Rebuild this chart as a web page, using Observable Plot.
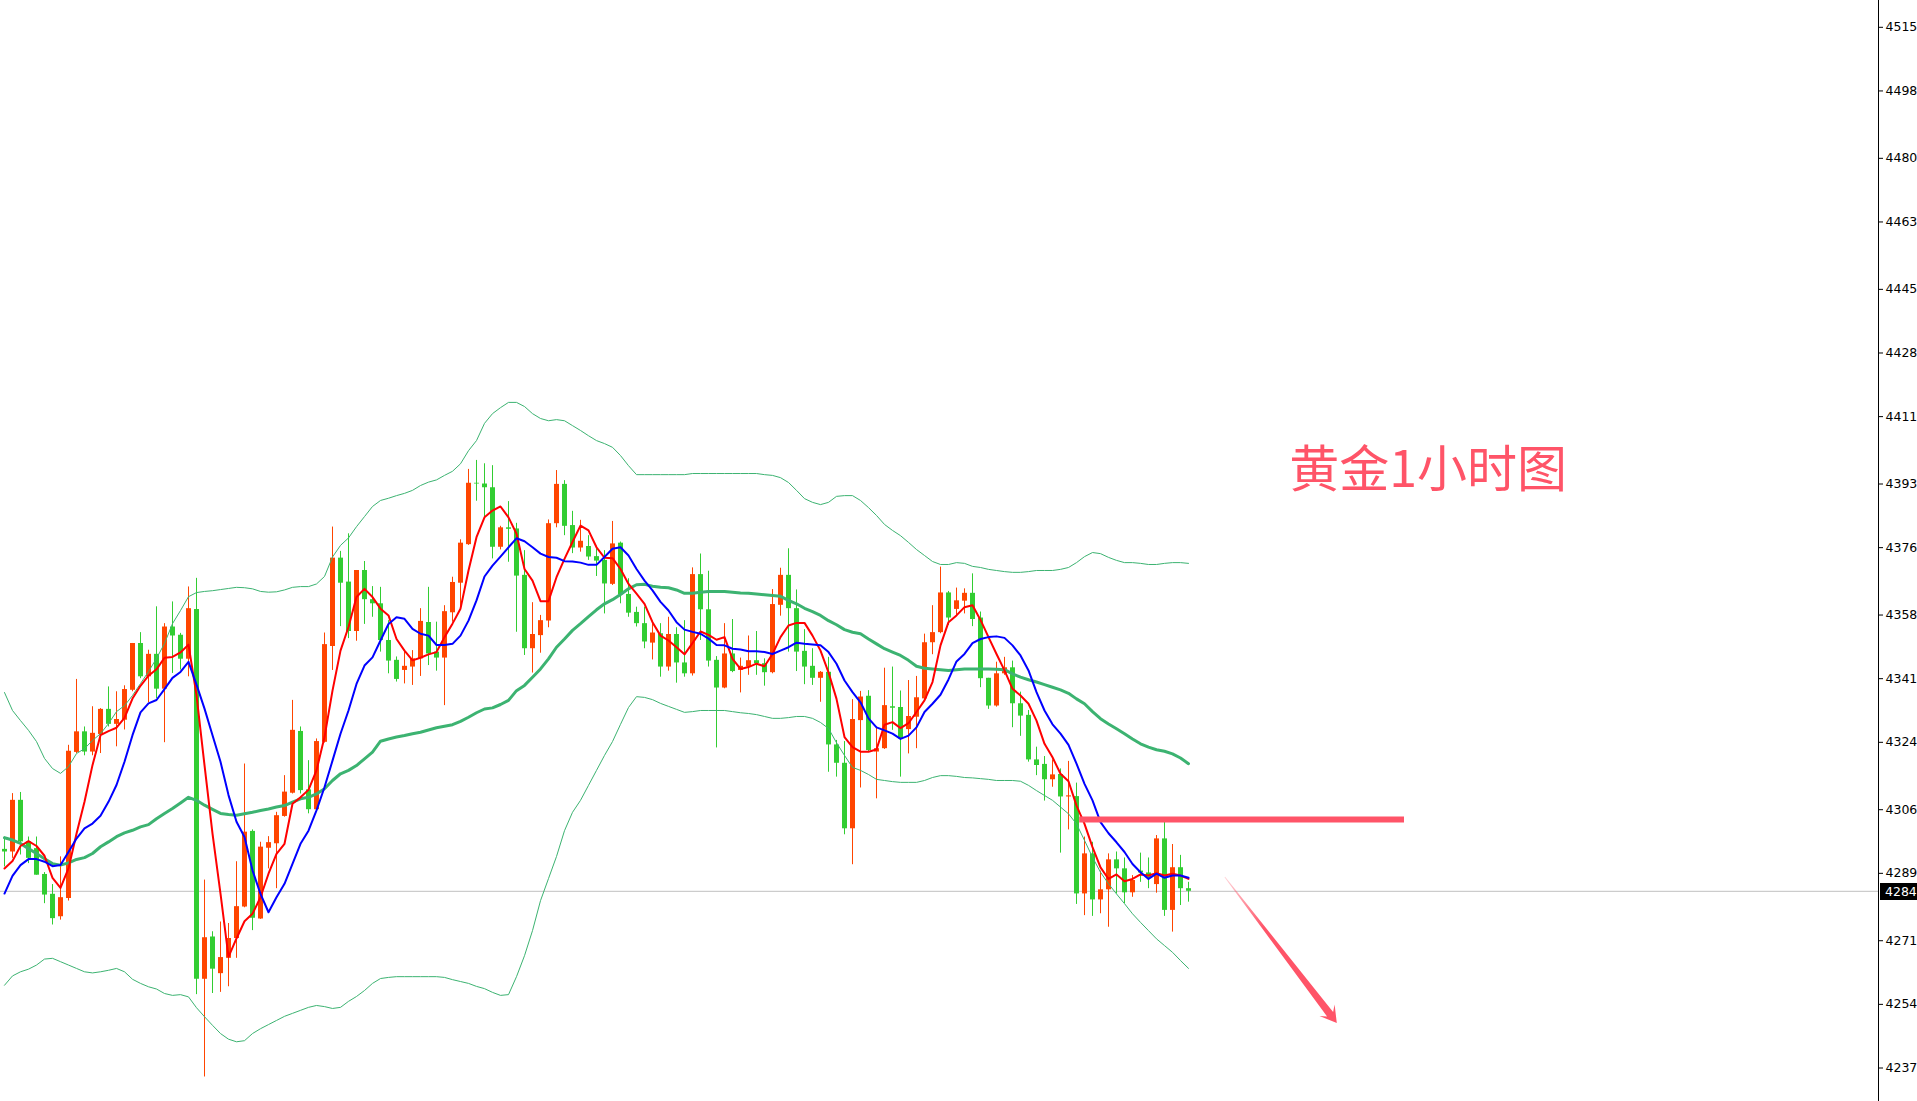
<!DOCTYPE html>
<html>
<head>
<meta charset="utf-8">
<script src="https://cdn.jsdelivr.net/npm/d3@7"></script>
<script src="https://cdn.jsdelivr.net/npm/@observablehq/plot@0.6"></script>
<style>
  html, body { margin: 0; padding: 0; background: #ffffff; overflow: hidden; }
  #chart svg { display: block; }
</style>
</head>
<body>
<div id="chart"></div>
<script>
// ---------- DATA ----------
const open = [4295.4,4294.7,4308.5,4297.4,4295.6,4288.7,4283.4,4277.4,4282.3,4321.3,
4326.8,4321.4,4326.1,4332.8,4328.8,4329.9,4337.9,4350.4,4341.5,4347.5,
4338.2,4354.8,4352.6,4346.2,4359.5,4260.7,4272.0,4262.2,4266.3,4271.6,
4280.0,4300.2,4276.8,4295.7,4296.9,4304.2,4310.4,4326.9,4311.3,4306.0,
4324.0,4349.6,4373.2,4366.8,4353.6,4369.9,4362.1,4361.0,4351.2,4345.9,
4343.2,4344.1,4346.3,4356.0,4348.1,4346.5,4358.6,4366.5,4376.8,4393.2,
4393.0,4392.0,4376.1,4381.3,4381.0,4368.6,4349.0,4352.5,4356.4,4382.4,
4392.9,4381.9,4375.9,4376.3,4373.6,4372.6,4366.2,4377.2,4363.5,4358.7,
4355.7,4350.5,4353.0,4344.1,4352.8,4345.2,4342.3,4368.8,4359.4,4345.9,
4338.5,4347.6,4343.2,4344.1,4345.8,4345.0,4342.6,4360.6,4368.6,4359.7,
4348.3,4344.3,4341.1,4342.7,4323.3,4318.4,4300.9,4329.8,4336.3,4321.4,
4322.3,4333.5,4333.3,4327.4,4330.7,4335.6,4350.6,4353.3,4363.9,4359.5,
4361.7,4363.8,4357.2,4341.1,4333.7,4342.3,4343.9,4334.3,4331.2,4319.3,
4318.1,4314.0,4315.4,4309.4,4309.5,4283.5,4294.2,4281.9,4284.6,4292.6,
4290.2,4283.8,4289.6,4289.1,4286.0,4298.2,4279.1,4290.5,4284.9];

const high = [4298.7,4310.3,4310.6,4298.7,4298.7,4289.2,4286.0,4293.4,4323.2,4340.8,
4328.1,4333.5,4333.0,4338.8,4337.5,4339.1,4350.4,4353.3,4348.6,4360.2,
4355.7,4361.5,4353.1,4365.5,4367.8,4287.2,4273.4,4276.0,4275.6,4292.1,
4318.2,4300.6,4297.3,4298.8,4305.3,4315.1,4335.2,4328.1,4319.1,4324.9,
4353.2,4381.5,4375.0,4379.7,4369.9,4372.3,4365.6,4365.4,4356.5,4346.8,
4348.5,4348.5,4359.7,4365.4,4356.1,4360.5,4368.1,4378.1,4396.9,4399.3,
4398.4,4397.9,4381.7,4388.3,4382.5,4375.2,4361.3,4357.9,4383.4,4396.6,
4393.9,4385.7,4383.3,4379.2,4375.7,4375.2,4383.0,4377.5,4367.7,4360.1,
4360.1,4355.7,4355.7,4357.4,4354.6,4356.5,4370.6,4374.3,4369.7,4346.9,
4355.7,4356.8,4346.5,4352.4,4353.6,4346.3,4364.8,4370.5,4375.7,4364.7,
4354.1,4349.0,4342.9,4346.7,4324.5,4324.2,4335.4,4337.6,4337.8,4328.1,
4343.8,4344.1,4337.7,4340.5,4341.6,4352.9,4360.5,4370.8,4364.3,4365.2,
4365.0,4369.0,4358.8,4341.1,4345.4,4346.7,4345.7,4337.4,4332.5,4322.7,
4320.2,4319.3,4316.9,4318.9,4313.1,4298.7,4297.3,4289.6,4294.2,4294.7,
4293.1,4288.4,4294.4,4293.1,4299.1,4302.7,4296.7,4293.8,4286.6];

const low = [4290.7,4293.0,4293.9,4291.6,4288.5,4280.9,4275.2,4276.5,4281.6,4321.0,
4320.4,4320.4,4321.0,4328.1,4322.8,4327.3,4337.5,4341.0,4334.6,4335.7,
4323.9,4342.4,4343.3,4341.5,4256.6,4234.6,4256.9,4257.2,4258.7,4266.3,
4279.8,4273.7,4276.7,4290.2,4284.9,4304.0,4310.2,4310.2,4304.9,4305.8,
4323.8,4343.2,4354.9,4351.7,4351.0,4355.5,4357.4,4348.1,4342.3,4340.1,
4339.6,4339.2,4341.6,4344.5,4343.0,4333.8,4356.1,4359.7,4376.6,4388.4,
4384.1,4373.0,4375.4,4372.1,4353.4,4347.2,4342.5,4347.8,4354.6,4381.3,
4379.2,4374.4,4374.8,4372.6,4368.3,4358.3,4365.9,4361.0,4357.4,4354.8,
4349.0,4346.0,4341.4,4343.0,4339.8,4341.4,4341.7,4351.2,4344.1,4322.5,
4338.3,4342.6,4337.2,4341.9,4341.9,4339.0,4342.3,4357.7,4348.1,4342.9,
4339.4,4339.2,4334.7,4316.0,4314.7,4299.3,4291.3,4311.8,4321.4,4308.9,
4322.1,4327.2,4314.7,4320.9,4322.3,4335.4,4347.4,4353.0,4355.2,4357.9,
4358.3,4354.9,4338.6,4332.8,4333.4,4341.9,4327.9,4325.6,4318.7,4315.1,
4308.3,4312.0,4294.4,4300.6,4280.7,4277.7,4277.5,4278.2,4274.6,4283.5,
4280.9,4282.6,4286.6,4284.9,4283.7,4277.5,4273.3,4280.4,4281.3];

const close = [4294.7,4308.5,4297.4,4293.0,4288.5,4283.2,4276.9,4282.5,4321.6,4326.8,
4321.4,4326.4,4332.8,4328.8,4330.1,4338.1,4350.4,4341.5,4347.5,4338.2,
4354.8,4352.4,4346.2,4359.7,4260.7,4271.8,4263.4,4266.5,4271.6,4280.1,
4300.0,4277.0,4296.0,4297.2,4304.4,4310.7,4327.2,4311.1,4306.0,4324.2,
4350.1,4373.2,4366.5,4353.6,4369.9,4362.1,4361.0,4351.2,4345.7,4340.8,
4344.3,4346.3,4356.3,4347.6,4346.5,4358.9,4366.7,4377.2,4393.2,4393.0,
4392.0,4376.1,4381.3,4380.9,4368.4,4349.0,4352.8,4356.5,4382.4,4392.9,
4381.7,4375.9,4377.7,4373.5,4372.4,4366.3,4377.0,4363.4,4358.5,4355.7,
4350.8,4353.2,4344.1,4352.8,4345.2,4342.3,4368.8,4359.4,4345.7,4338.5,
4347.6,4342.9,4344.3,4345.8,4345.0,4342.6,4360.8,4368.6,4359.7,4348.1,
4344.1,4341.1,4342.7,4323.3,4318.4,4300.9,4330.1,4336.1,4321.8,4322.3,
4333.8,4333.1,4324.9,4330.9,4335.9,4350.6,4353.3,4363.9,4357.2,4361.8,
4363.8,4356.8,4341.0,4333.7,4342.3,4343.9,4334.3,4331.0,4319.3,4317.8,
4314.0,4315.3,4309.4,4309.7,4283.5,4294.2,4281.9,4284.6,4292.6,4290.2,
4283.8,4287.1,4289.1,4287.7,4298.2,4279.1,4290.5,4284.9,4284.2];

// fast average (red)
const maFast = [4290.3,4292.3,4296.3,4297.6,4296.3,4293.7,4287.8,4285.1,4290.3,4299.6,
4308.1,4317.9,4325.9,4327.0,4327.9,4330.5,4335.7,4339.1,4341.8,4343.5,
4346.6,4346.8,4348.0,4350.1,4336.6,4317.9,4299.6,4283.6,4266.7,4271.6,
4276.2,4278.2,4282.6,4288.9,4294.2,4296.9,4307.6,4309.3,4311.3,4316.5,
4325.4,4337.8,4348.5,4354.8,4362.8,4365.0,4362.8,4359.7,4357.9,4351.6,
4348.5,4345.9,4346.6,4347.5,4348.1,4352.1,4355.7,4359.7,4369.9,4378.8,
4384.1,4385.9,4387.0,4384.1,4379.7,4370.3,4367.2,4361.7,4361.7,4368.1,
4373.0,4377.5,4381.9,4380.6,4376.1,4373.3,4373.2,4370.3,4366.3,4363.7,
4361.0,4356.1,4352.5,4351.2,4349.4,4347.5,4350.5,4353.6,4352.7,4351.4,
4352.1,4346.3,4343.6,4344.1,4345.0,4344.3,4347.6,4352.1,4355.2,4355.9,
4355.9,4352.5,4348.5,4342.7,4335.6,4325.4,4322.7,4321.5,4321.5,4322.1,
4328.7,4329.4,4327.8,4329.1,4332.1,4335.2,4340.1,4349.9,4356.1,4357.9,
4360.1,4360.6,4356.7,4352.1,4347.6,4343.2,4338.3,4336.5,4334.3,4329.8,
4323.6,4320.0,4315.6,4313.6,4307.1,4302.2,4296.0,4290.6,4287.5,4288.7,
4286.9,4287.5,4288.7,4288.4,4289.0,4288.4,4288.9,4288.4,4287.5];

// slow average (blue)
const maSlow = [4283.6,4288.3,4291.2,4292.8,4292.8,4292.1,4290.9,4291.2,4294.7,4298.3,
4301.0,4302.3,4304.4,4308.1,4312.6,4318.8,4325.9,4332.0,4334.4,4335.3,
4338.2,4341.2,4342.8,4345.5,4339.4,4333.0,4325.9,4318.8,4309.9,4302.8,
4298.7,4289.8,4283.5,4278.6,4282.6,4286.2,4291.5,4296.9,4300.4,4305.8,
4312.0,4319.1,4326.3,4332.5,4339.6,4344.5,4346.7,4351.2,4355.6,4357.4,
4357.0,4354.3,4353.0,4352.5,4350.0,4350.0,4350.3,4352.5,4356.5,4361.9,
4368.3,4371.2,4373.6,4376.1,4378.5,4377.7,4376.1,4374.4,4373.5,4373.3,
4372.4,4372.3,4372.0,4371.4,4371.4,4373.5,4375.7,4376.1,4373.9,4370.3,
4367.2,4364.6,4361.5,4359.2,4356.1,4354.1,4353.5,4353.0,4351.7,4350.0,
4349.9,4349.0,4348.8,4348.3,4348.3,4348.1,4347.6,4348.5,4349.4,4350.6,
4350.3,4350.1,4349.9,4348.1,4345.0,4340.5,4337.4,4334.7,4330.4,4328.0,
4327.2,4326.3,4324.9,4325.8,4328.0,4332.1,4334.3,4336.7,4340.8,4345.6,
4347.6,4350.5,4351.6,4352.1,4352.3,4351.9,4349.9,4347.2,4343.2,4337.4,
4332.5,4328.8,4326.3,4323.3,4318.3,4312.9,4308.5,4302.7,4299.7,4297.3,
4294.7,4291.5,4289.3,4287.5,4288.9,4287.8,4288.4,4288.4,4287.8];

// band middle (thick green)
const bandMid = [4298.5,4297.9,4297.0,4295.6,4294.3,4292.9,4291.6,4291.2,4291.8,4292.7,
4293.2,4294.3,4296.1,4297.4,4298.8,4299.8,4300.5,4301.4,4302.0,4303.6,
4305.0,4306.3,4307.8,4309.3,4308.5,4307.2,4306.1,4305.0,4304.7,4304.5,
4304.9,4305.3,4305.8,4306.2,4306.7,4307.1,4308.0,4308.9,4309.3,4310.2,
4311.6,4313.8,4315.6,4316.5,4317.8,4319.6,4321.4,4324.3,4324.9,4325.4,
4325.8,4326.3,4326.7,4327.3,4327.9,4328.3,4328.7,4329.6,4330.7,4331.9,
4332.9,4333.2,4334.1,4335.2,4337.8,4339.2,4341.4,4343.6,4346.3,4349.4,
4351.6,4353.9,4355.7,4357.6,4359.4,4361.0,4362.1,4363.5,4365.0,4366.1,
4366.2,4365.7,4365.4,4365.3,4364.7,4363.8,4363.8,4364.1,4364.3,4364.3,
4364.3,4364.1,4363.9,4363.8,4363.6,4363.4,4363.2,4363.0,4361.9,4361.0,
4359.8,4358.9,4357.9,4356.5,4355.4,4354.1,4353.4,4353.0,4351.6,4350.3,
4349.0,4348.1,4347.2,4345.9,4344.3,4343.8,4343.6,4343.4,4343.2,4343.4,
4343.6,4343.6,4343.6,4343.6,4343.5,4343.4,4342.3,4341.4,4340.7,4340.1,
4339.4,4338.7,4338.0,4337.1,4335.6,4334.3,4332.2,4330.3,4328.9,4327.6,
4326.3,4324.9,4323.6,4322.7,4322.0,4321.6,4320.9,4319.8,4318.3];

// upper band (thin green)
const bandUpper = [4337.3,4332.5,4329.8,4327.2,4324.2,4319.7,4317.0,4315.7,4317.5,4321.0,
4322.3,4324.5,4326.3,4329.0,4332.2,4333.8,4336.5,4339.7,4342.9,4346.4,
4350.4,4355.7,4359.2,4362.9,4364.0,4364.3,4364.5,4364.8,4365.1,4365.4,
4365.3,4365.0,4364.3,4364.1,4364.2,4364.7,4365.4,4365.6,4365.6,4366.3,
4368.3,4373.5,4376.6,4378.6,4381.6,4384.3,4387.0,4388.6,4389.2,4389.9,
4390.5,4391.3,4392.6,4393.5,4394.1,4395.3,4396.4,4398.4,4401.9,4404.6,
4409.2,4411.8,4413.4,4414.8,4414.8,4413.7,4411.8,4410.5,4409.9,4410.2,
4409.9,4408.6,4407.3,4405.9,4404.6,4403.8,4402.8,4400.6,4397.9,4395.5,
4395.5,4395.5,4395.5,4395.5,4395.5,4395.5,4395.8,4395.8,4395.8,4395.8,
4395.8,4395.8,4395.8,4395.8,4395.8,4395.5,4395.3,4394.7,4393.4,4391.3,
4389.1,4388.1,4387.5,4388.1,4389.7,4389.9,4389.9,4388.6,4386.7,4384.6,
4382.2,4380.6,4379.2,4377.4,4375.5,4373.9,4372.3,4371.5,4371.5,4372.0,
4371.8,4371.0,4370.7,4370.2,4369.9,4369.6,4369.4,4369.4,4369.6,4369.9,
4369.9,4369.9,4370.2,4370.7,4372.0,4373.6,4374.7,4374.4,4373.4,4372.6,
4372.0,4372.0,4371.8,4371.5,4371.5,4371.8,4372.0,4372.0,4371.8];

// lower band (thin green)
const bandLower = [4259.1,4261.6,4262.7,4263.4,4264.5,4266.1,4266.3,4265.4,4264.5,4263.6,
4262.7,4262.4,4262.7,4263.1,4263.6,4262.7,4260.7,4259.6,4258.7,4258.1,
4256.9,4256.4,4256.6,4256.0,4253.1,4250.7,4248.4,4246.2,4244.7,4244.0,
4244.3,4246.2,4247.5,4248.6,4249.7,4250.8,4251.6,4252.4,4253.2,4253.7,
4253.4,4252.9,4253.2,4254.8,4256.1,4257.7,4259.6,4260.9,4261.2,4261.4,
4261.4,4261.4,4261.4,4261.4,4261.4,4261.2,4260.6,4260.1,4259.6,4258.8,
4258.2,4257.2,4256.4,4256.6,4261.4,4267.0,4273.7,4281.7,4287.6,4293.5,
4300.4,4305.3,4308.5,4312.5,4316.5,4320.5,4324.2,4328.8,4333.3,4336.2,
4336.0,4335.4,4334.4,4333.6,4332.8,4332.0,4332.2,4332.5,4332.5,4332.5,
4332.5,4332.2,4331.9,4331.7,4331.4,4330.9,4330.4,4330.4,4330.6,4330.9,
4330.9,4330.4,4329.3,4327.7,4323.9,4320.5,4317.3,4316.5,4315.4,4314.1,
4313.8,4313.5,4313.3,4313.3,4313.3,4313.8,4314.6,4315.1,4315.1,4314.9,
4314.6,4314.5,4314.3,4314.1,4313.8,4313.8,4313.8,4313.6,4312.5,4311.1,
4309.8,4308.5,4306.7,4304.9,4302.2,4297.8,4293.3,4289.3,4286.2,4283.5,
4280.9,4278.2,4275.9,4273.7,4271.5,4269.7,4267.9,4265.7,4263.6];

// price-axis tick labels
const tickLabels = [4237,4254,4271,4289,4306,4324,4341,4358,4376,4393,4411,4428,4445,4463,4480,4498,4515];

// annotations (candle index / price)
const titleNote = [{i: 160.6, price: 4396.6, label: "黄金1小时图"}];
const levelNote = [{i1: 134.4, i2: 175.0, price: 4303.4}];
const arrowNote = {i1: 152.6, p1: 4287.9, i2: 166.6, p2: 4248.9};

// ---------- STYLE ----------
const BULL = "#FF4500", BEAR = "#32CD32", BANDC = "#3CB371", NOTE = "#FF5468";
const W = 1917, H = 1101;
const AXIS_FONT = "'DejaVu Sans', sans-serif";

const N = close.length;
const candles = d3.range(N).map(i => ({i, o: open[i], h: high[i], l: low[i], c: close[i]}));
const ser = arr => arr.map((v, i) => ({i, v}));
const colorOf = d => d.c >= d.o ? BULL : BEAR;
const last = close[N - 1];

const chart = Plot.plot({
  width: W, height: H,
  marginLeft: 0, marginRight: 39, marginTop: 26.8, marginBottom: 33.5,
  x: {domain: [-0.5, 234.25], axis: null},
  y: {domain: [tickLabels[0], tickLabels[tickLabels.length - 1]]},
  style: {background: "#ffffff", fontFamily: AXIS_FONT, fontSize: "12.5px", color: "#000", overflow: "visible"},
  marks: [
    Plot.ruleY([last], {stroke: "#C0C0C0", strokeWidth: 1}),
    Plot.ruleX(candles, {x: "i", y1: "l", y2: "h", stroke: colorOf, strokeWidth: 1}),
    Plot.ruleX(candles, {x: "i", y1: "o", y2: "c", stroke: colorOf, strokeWidth: 5}),
    Plot.line(ser(bandUpper), {x: "i", y: "v", stroke: BANDC, strokeWidth: 1}),
    Plot.line(ser(bandLower), {x: "i", y: "v", stroke: BANDC, strokeWidth: 1}),
    Plot.line(ser(bandMid), {x: "i", y: "v", stroke: BANDC, strokeWidth: 3}),
    Plot.line(ser(maFast), {x: "i", y: "v", stroke: "#FF0000", strokeWidth: 2}),
    Plot.line(ser(maSlow), {x: "i", y: "v", stroke: "#0000FF", strokeWidth: 2}),
    Plot.ruleY(levelNote, {y: "price", x1: "i1", x2: "i2", stroke: NOTE, strokeWidth: 6}),
    Plot.text(titleNote, {x: "i", y: "price", text: "label", textAnchor: "start", lineAnchor: "middle",
      fill: NOTE, fontSize: 50, fontFamily: "'Noto Sans CJK SC', sans-serif"}),
    Plot.axisY(tickLabels, {anchor: "right", tickSize: 4, tickPadding: 3, tickFormat: d => String(d), fontSize: 12.5})
  ]
});

document.getElementById("chart").appendChild(chart);

// ---------- chrome drawn with the chart's own scales ----------
const svg = d3.select(chart);
const xS = chart.scale("x"), yS = chart.scale("y");
const axisX = W - 39;

svg.append("line")
  .attr("x1", axisX + 0.5).attr("x2", axisX + 0.5).attr("y1", 0).attr("y2", H)
  .attr("stroke", "#000").attr("stroke-width", 1);

// current price tag
const py = yS.apply(last);
svg.append("rect").attr("x", axisX + 2).attr("y", Math.round(py) - 8).attr("width", W - axisX - 2).attr("height", 17).attr("fill", "#000");
svg.append("text").attr("x", axisX + 7).attr("y", py + 0.5).attr("dy", "0.35em")
  .attr("text-anchor", "start")
  .attr("fill", "#fff").attr("font-family", AXIS_FONT).attr("font-size", 12.5)
  .text(String(Math.round(last)));

// tapered arrow
const sx = xS.apply(arrowNote.i1), sy = yS.apply(arrowNote.p1);
const tx = xS.apply(arrowNote.i2), ty = yS.apply(arrowNote.p2);
const len = Math.hypot(tx - sx, ty - sy);
const ux = (tx - sx) / len, uy = (ty - sy) / len;
const nx = -uy, ny = ux;
const pt = (bx, by, along, side) => [bx + ux * along + nx * side, by + uy * along + ny * side];
const neck = -11, barb = -16;
const poly = [
  pt(sx, sy, 0, 0.4),
  pt(tx, ty, neck, 3.8),
  pt(tx, ty, barb, 9.5),
  [tx, ty],
  pt(tx, ty, barb, -9.5),
  pt(tx, ty, neck, -3.8),
  pt(sx, sy, 0, -0.4)
];
const defs = svg.append("defs");
const grad = defs.append("linearGradient").attr("id", "arrowGrad")
  .attr("gradientUnits", "userSpaceOnUse")
  .attr("x1", sx).attr("y1", sy).attr("x2", tx).attr("y2", ty);
grad.append("stop").attr("offset", "0").attr("stop-color", NOTE).attr("stop-opacity", 0.25);
grad.append("stop").attr("offset", "0.35").attr("stop-color", NOTE).attr("stop-opacity", 1);
grad.append("stop").attr("offset", "1").attr("stop-color", NOTE).attr("stop-opacity", 1);
svg.append("polygon").attr("points", poly.map(p => p.join(",")).join(" ")).attr("fill", "url(#arrowGrad)");
</script>
</body>
</html>
